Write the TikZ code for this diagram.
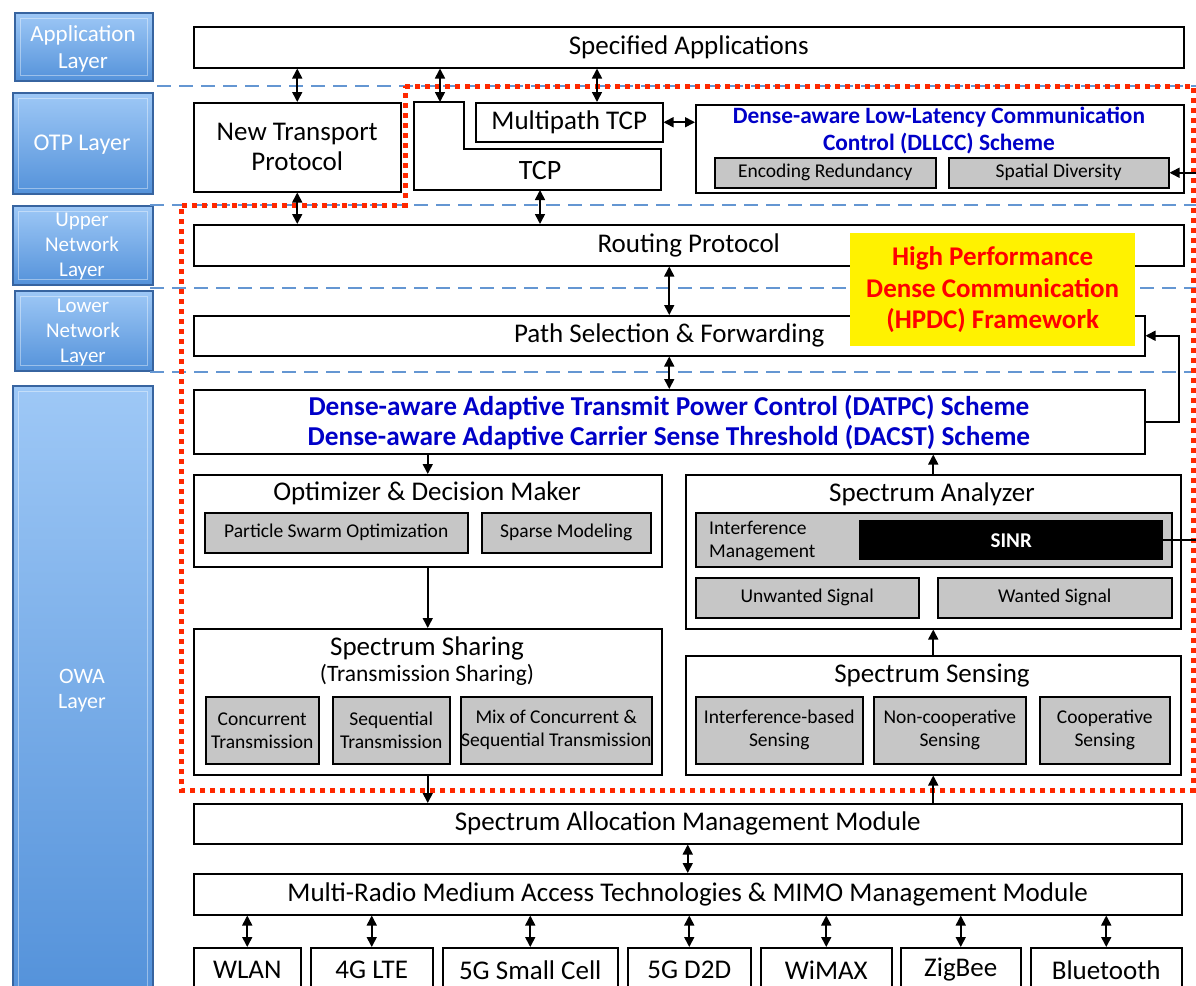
\documentclass[tikz,border=0pt]{standalone}
\usepackage{fontspec}
\setmainfont{Carlito}
\usetikzlibrary{arrows.meta,calc}
\definecolor{dlblue}{RGB}{0,0,200}
\definecolor{gfill}{RGB}{198,198,198}
\definecolor{sepcol}{RGB}{100,150,210}
\definecolor{framecol}{RGB}{255,40,0}
\definecolor{barTop}{RGB}{158,200,246}
\definecolor{barBot}{RGB}{84,146,218}
\definecolor{barEdge}{RGB}{55,100,160}
\newcommand\fsz[2]{\fontsize{#1}{#2}\selectfont}
% \bx{style}{name}{x1}{y1}{x2}{y2}{text}: box from corner to corner (pixel units, y downwards)
\newcommand\bx[7]{%
  \pgfmathsetmacro\bxw{#5-#3}\pgfmathsetmacro\bxh{#6-#4}%
  \node[#1,anchor=north west,minimum width=\bxw pt,minimum height=\bxh pt] (#2) at (#3,#4) {#7};}
\begin{document}
\begin{tikzpicture}[x=1pt,y=-1pt,
  box/.style={draw,line width=1.5pt,fill=white,inner sep=0pt,align=center,font=\fsz{27}{30}},
  gbox/.style={draw,line width=1.5pt,fill=gfill,inner sep=0pt,align=center,font=\fsz{19.5}{23}},
  txt/.style={inner sep=0pt,align=center,font=\fsz{27}{30}},
  bluet/.style={inner sep=0pt,align=center,text=dlblue,font=\bfseries\fsz{23.4}{27}},
  layer/.style={draw=barEdge,line width=1.5pt,top color=barTop,bottom color=barBot,inner sep=0pt},
  lbl/.style={inner sep=0pt,align=center,text=white},
  bevel/.style={draw=white,line width=0.8pt,opacity=0.4},
  dbl/.style={line width=1.6pt,{Triangle[length=10pt,width=10pt]}-{Triangle[length=10pt,width=10pt]}},
  arr/.style={line width=1.6pt,-{Triangle[length=10pt,width=10pt]}},
  sepline/.style={draw=sepcol,line width=1.6pt,dash pattern=on 14pt off 8pt},
  hpdcframe/.style={draw=framecol,line width=5pt,dash pattern=on 5pt off 5pt}]
\fill[white] (0,0) rectangle (1196,985);
\useasboundingbox (0,0) rectangle (1196,985);

% layer bars on the left
\bx{layer}{lapp}{14}{12}{152}{80}{}
\bx{layer}{lotp}{12}{92}{152}{193}{}
\bx{layer}{lupn}{12}{205}{152}{284}{}
\bx{layer}{llwn}{14}{290}{152}{370}{}
\bx{layer}{lowa}{12}{385}{152}{995}{}
\foreach \n in {lapp,lotp,lupn,llwn,lowa}
  \draw[bevel] ($(\n.north west)+(6,6)$) rectangle ($(\n.south east)+(-6,-6)$);
\node[lbl,font=\fsz{23}{27}] (lappt) at (83,48.5) {Application\\Layer};
\node[lbl,font=\fsz{24}{27}] (lotpt) at (82,145) {OTP Layer};
\node[lbl,font=\fsz{21}{25}] (lupnt) at (82,246.5) {Upper\\Network\\Layer};
\node[lbl,font=\fsz{21}{25}] (llwnt) at (83,332) {Lower\\Network\\Layer};
\node[lbl,font=\fsz{22}{25}] (lowat) at (82,690.5) {OWA\\Layer};

% layer separators
\draw[sepline] (157,86) -- (1196,86);
\draw[sepline] (150,205) -- (1196,205);
\draw[sepline] (150,288) -- (1196,288);
\draw[sepline] (150,372) -- (1196,372);

% HPDC framework outline
\draw[hpdcframe] (405,86) -- (1193,86) -- (1193,790) -- (181,790) -- (181,205) -- (405,205) -- cycle;

% application and transport
\bx{box}{sa}{193}{26}{1183}{67}{Specified Applications}
\bx{box}{ntp}{193}{102}{400}{191}{New Transport\\Protocol}
\draw[line width=1.5pt,fill=white] (414,102) -- (464,102) -- (464,149) -- (661,149) -- (661,190) -- (414,190) -- cycle;
\node[txt,font=\fsz{28}{30}] (tcp) at (540,171) {TCP};
\coordinate (tcpin) at (440,102);
\coordinate (tcpout) at (540,190);
\bx{box}{mtcp}{475}{102}{662}{141}{Multipath TCP}
\coordinate (mtcpin) at (597,102);
\bx{box}{dllcc}{695}{104}{1183}{192}{}
\node[bluet] (dllcct) at (939,131) {Dense-aware Low-Latency Communication\\Control (DLLCC) Scheme};
\bx{gbox}{encr}{714}{157}{935}{187}{Encoding Redundancy}
\bx{gbox}{spd}{948}{157}{1168}{187}{Spatial Diversity}

% network layers
\bx{box}{rp}{193}{224}{1183}{265}{Routing Protocol}
\bx{box}{psf}{193}{315}{1144}{355}{Path Selection \& Forwarding}
\bx{fill=yellow,inner sep=0pt,align=center,text=red,font=\bfseries\fsz{27}{31.5}}{hpdc}{850}{233}{1135}{346}{High Performance\\Dense Communication\\(HPDC) Framework}
\bx{box}{datpc}{193}{389}{1144}{453}{}
\node[bluet,font=\bfseries\fsz{27.3}{30}] (datpct) at (669,423) {Dense-aware Adaptive Transmit Power Control (DATPC) Scheme\\Dense-aware Adaptive Carrier Sense Threshold (DACST) Scheme};

% optimizer and spectrum sharing
\bx{box}{opt}{193}{474}{661}{566}{}
\node[txt] (optt) at (427,493) {Optimizer \& Decision Maker};
\bx{gbox}{pso}{204}{512}{467}{552}{Particle Swarm Optimization}
\bx{gbox}{spm}{481}{512}{650}{552}{Sparse Modeling}
\bx{box}{ss}{193}{628}{661}{774}{}
\node[txt] (sst) at (427,648) {Spectrum Sharing};
\node[txt,font=\fsz{23.5}{26}] (sst2) at (427,675) {(Transmission Sharing)};
\bx{gbox}{ct}{205}{696}{318}{763}{Concurrent\\Transmission}
\bx{gbox}{st}{332}{696}{449}{763}{Sequential\\Transmission}
\bx{gbox}{mix}{460}{696}{651}{763}{Mix of Concurrent \&\\Sequential Transmission}

% spectrum analyzer and sensing
\bx{box}{san}{685}{474}{1180}{628}{}
\node[txt] (sant) at (932,494) {Spectrum Analyzer};
\bx{gbox}{im}{695}{512}{1171}{566}{}
\node[inner sep=0pt,align=left,anchor=west,font=\fsz{19.5}{23}] (imt) at (709,541) {Interference\\Management};
\bx{fill=black,inner sep=0pt,text=white,font=\bfseries\fsz{21}{24}}{sinr}{859}{520}{1163}{560}{SINR}
\bx{gbox}{us}{695}{577}{918}{617}{Unwanted Signal}
\bx{gbox}{ws}{937}{577}{1171}{617}{Wanted Signal}
\bx{box}{sse}{685}{655}{1180}{774}{}
\node[txt] (sset) at (932,676) {Spectrum Sensing};
\bx{gbox}{ib}{695}{696}{862}{763}{Interference-based\\Sensing}
\bx{gbox}{nc}{873}{696}{1025}{763}{Non-cooperative\\Sensing}
\bx{gbox}{cs}{1039}{696}{1169}{763}{Cooperative\\Sensing}

% allocation, access and radios
\bx{box}{sam}{193}{803}{1181}{843}{Spectrum Allocation Management Module}
\bx{box}{mrm}{193}{873}{1181}{914}{Multi-Radio Medium Access Technologies \& MIMO Management Module}
\bx{box}{wlan}{193}{947}{300}{991}{WLAN}
\bx{box}{lte}{310}{947}{432}{991}{4G LTE}
\bx{box}{sc}{442}{947}{617}{991}{5G Small Cell}
\bx{box}{d2d}{627}{947}{750}{991}{5G D2D}
\bx{box}{wimax}{760}{947}{891}{991}{WiMAX}
\bx{box}{zig}{900}{947}{1020}{991}{ZigBee}
\bx{box}{bt}{1030}{947}{1181}{991}{Bluetooth}

% connectors
\coordinate (fbx) at (1179,0);
\coordinate (rx) at (1205,0);
\draw[dbl] (sa.south -| ntp.north) -- (ntp.north);
\draw[dbl] (sa.south -| tcpin) -- (tcpin);
\draw[dbl] (sa.south -| mtcpin) -- (mtcpin);
\draw[dbl] (mtcp.east) -- (mtcp.east -| dllcc.west);
\draw[dbl] (ntp.south) -- (rp.north -| ntp.south);
\draw[dbl] (tcpout) -- (rp.north -| tcpout);
\draw[dbl] (rp.south -| psf.north) -- (psf.north);
\draw[dbl] (psf.south) -- (datpc.north);
\draw[arr] (datpc.east) -- (datpc.east -| fbx) |- (psf.east);
\draw[arr] (datpc.south -| opt.north) -- (opt.north);
\draw[arr] (san.north) -- (datpc.south -| san.north);
\draw[arr] (opt.south) -- (ss.north);
\draw[arr] (sse.north) -- (san.south);
\draw[arr] (ss.south) -- (sam.north -| ss.south);
\draw[arr] (sam.north -| sse.south) -- (sse.south);
\draw[arr] (sinr.east) -- (sinr.east -| rx) |- (spd.east);
\draw[dbl] (sam.south) -- (mrm.north);
\foreach \n in {wlan,lte,sc,d2d,wimax,zig,bt}
  \draw[dbl] (mrm.south -| \n.north) -- (\n.north);
\end{tikzpicture}
\end{document}
